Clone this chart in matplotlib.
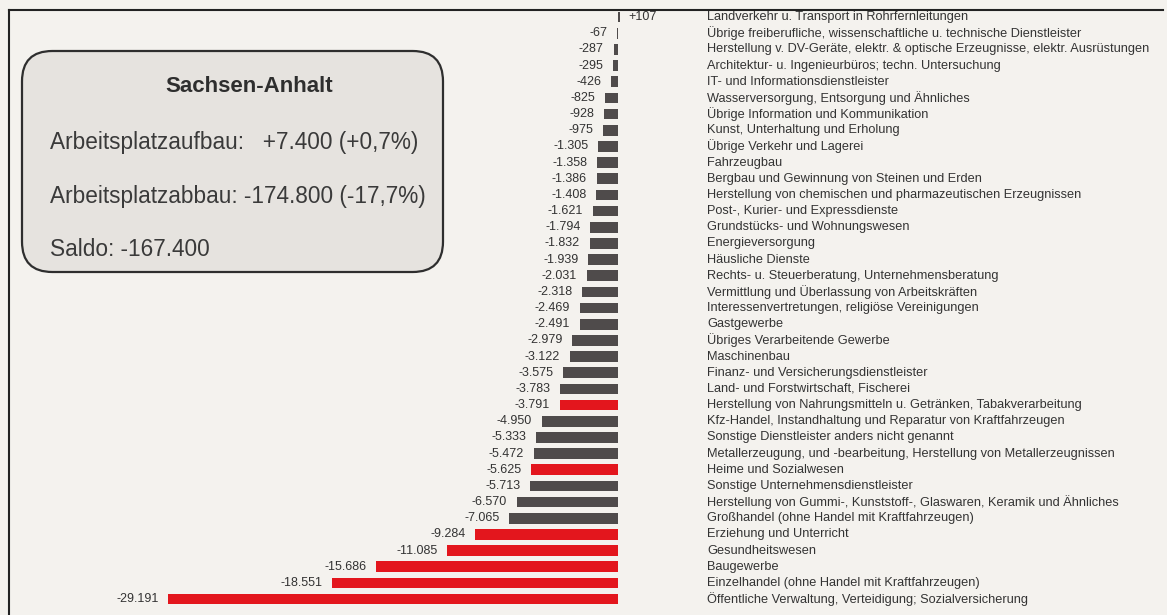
import matplotlib
matplotlib.use("Agg")
import matplotlib.pyplot as plt
from matplotlib.patches import FancyBboxPatch
from matplotlib.lines import Line2D
import matplotlib.transforms as mtransforms

branchen = [
    "Landverkehr u. Transport in Rohrfernleitungen",
    "Übrige freiberufliche, wissenschaftliche u. technische Dienstleister",
    "Herstellung v. DV-Geräte, elektr. & optische Erzeugnisse, elektr. Ausrüstungen",
    "Architektur- u. Ingenieurbüros; techn. Untersuchung",
    "IT- und Informationsdienstleister",
    "Wasserversorgung, Entsorgung und Ähnliches",
    "Übrige Information und Kommunikation",
    "Kunst, Unterhaltung und Erholung",
    "Übrige Verkehr und Lagerei",
    "Fahrzeugbau",
    "Bergbau und Gewinnung von Steinen und Erden",
    "Herstellung von chemischen und pharmazeutischen Erzeugnissen",
    "Post-, Kurier- und Expressdienste",
    "Grundstücks- und Wohnungswesen",
    "Energieversorgung",
    "Häusliche Dienste",
    "Rechts- u. Steuerberatung, Unternehmensberatung",
    "Vermittlung und Überlassung von Arbeitskräften",
    "Interessenvertretungen, religiöse Vereinigungen",
    "Gastgewerbe",
    "Übriges Verarbeitende Gewerbe",
    "Maschinenbau",
    "Finanz- und Versicherungsdienstleister",
    "Land- und Forstwirtschaft, Fischerei",
    "Herstellung von Nahrungsmitteln u. Getränken, Tabakverarbeitung",
    "Kfz-Handel, Instandhaltung und Reparatur von Kraftfahrzeugen",
    "Sonstige Dienstleister anders nicht genannt",
    "Metallerzeugung, und -bearbeitung, Herstellung von Metallerzeugnissen",
    "Heime und Sozialwesen",
    "Sonstige Unternehmensdienstleister",
    "Herstellung von Gummi-, Kunststoff-, Glaswaren, Keramik und Ähnliches",
    "Großhandel (ohne Handel mit Kraftfahrzeugen)",
    "Erziehung und Unterricht",
    "Gesundheitswesen",
    "Baugewerbe",
    "Einzelhandel (ohne Handel mit Kraftfahrzeugen)",
    "Öffentliche Verwaltung, Verteidigung; Sozialversicherung",
]
werte = [107, -67, -287, -295, -426, -825, -928, -975, -1305, -1358, -1386,
         -1408, -1621, -1794, -1832, -1939, -2031, -2318, -2469, -2491,
         -2979, -3122, -3575, -3783, -3791, -4950, -5333, -5472, -5625,
         -5713, -6570, -7065, -9284, -11085, -15686, -18551, -29191]
hervorgehoben = [False] * 24 + [True, False, False, False, True, False,
                                False, False, True, True, True, True, True]
box_titel = "Sachsen-Anhalt"
box_zeilen = ["Arbeitsplatzaufbau:   +7.400 (+0,7%)",
              "Arbeitsplatzabbau: -174.800 (-17,7%)",
              "Saldo: -167.400"]

W, H = 1167, 615
bg = "#f4f2ee"
grau = "#4f4b4b"
rot = "#e3161d"
text_col = "#333333"

fig = plt.figure(figsize=(W / 100, H / 100), dpi=100, facecolor=bg)
ax = fig.add_axes([0, 0, 1, 1])
ax.set_facecolor(bg)

# pixel mapping: zero at x=618, 0.0154 px per unit; rows from y=17, 16.17 px apart
x0, scale = 618, 0.0154
ax.set_xlim(-x0 / scale, (W - x0) / scale)
row0, dy = 17, 16.17
ax.set_ylim((H - row0) / dy, -row0 / dy)
ax.axis("off")

ypos = list(range(len(werte)))
farben = [rot if h else grau for h in hervorgehoben]
ax.barh(ypos, werte, height=0.66, color=farben, edgecolor="none")

for y, v in zip(ypos, werte):
    lab = f"{v:+,d}".replace(",", ".")
    if v > 0:
        ax.annotate(lab, (v, y), xytext=(6, 0), textcoords="offset points",
                    ha="left", va="center", fontsize=9, color=text_col,
                    family="Liberation Sans")
    else:
        ax.annotate(lab, (v, y), xytext=(-7, 0), textcoords="offset points",
                    ha="right", va="center", fontsize=9, color=text_col,
                    family="Liberation Sans")

trans = mtransforms.blended_transform_factory(fig.transFigure, ax.transData)
for y, name in zip(ypos, branchen):
    ax.text(707 / W, y, name, transform=trans, ha="left", va="center",
            fontsize=9.2, color=text_col, family="Liberation Sans")

# summary box
bx0, by0, bx1, by1 = 22, 51, 443, 272
box = FancyBboxPatch((bx0 / W, 1 - by1 / H), (bx1 - bx0) / W, (by1 - by0) / H,
                     boxstyle="round,pad=0,rounding_size=0.026",
                     transform=fig.transFigure, facecolor="#e6e3df",
                     edgecolor="#2e2e2e", linewidth=1.6,
                     mutation_aspect=W / H)
fig.add_artist(box)
fig.text(249 / W, 1 - 87 / H, box_titel, ha="center", va="center",
         fontsize=16, fontweight="bold", color="#2e2e2e", family="Liberation Sans")
for yy, z in zip([143, 197, 250], box_zeilen):
    fig.text(50 / W, 1 - yy / H, z, ha="left", va="center", fontsize=16.3,
             color="#3a3a3a", family="Liberation Sans")

# outer frame (only top and left edges are in the picture)
fig.add_artist(Line2D([9 / W, 1163 / W], [1 - 10 / H, 1 - 10 / H],
                      transform=fig.transFigure, color="#222222", lw=1.5))
fig.add_artist(Line2D([9 / W, 9 / W], [1 - 10 / H, 0],
                      transform=fig.transFigure, color="#222222", lw=1.5))

fig.savefig("out.png", dpi=100, facecolor=bg)
